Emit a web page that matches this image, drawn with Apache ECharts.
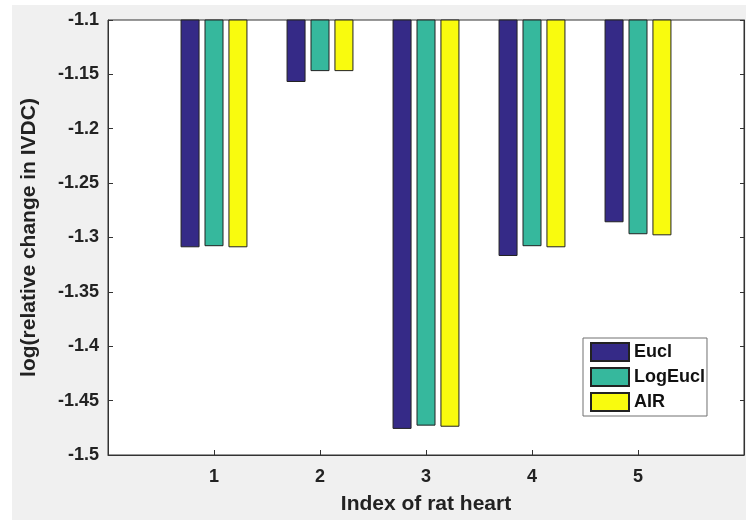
<!DOCTYPE html>
<html>
<head>
<meta charset="utf-8">
<script src="https://cdn.jsdelivr.net/npm/echarts@6/dist/echarts.min.js"></script>
<style>
html, body { margin: 0; padding: 0; background: #fff; }
#chart { width: 746px; height: 520px; }
</style>
</head>
<body>
<div id="chart"></div>
<script>
// 横轴：大鼠心脏编号
var heartIndex = ['1', '2', '3', '4', '5'];
var seriesNames = ['Eucl', 'LogEucl', 'AIR'];
var euclValues = [-1.309, -1.157, -1.476, -1.317, -1.286];
var logEuclValues = [-1.308, -1.147, -1.473, -1.308, -1.297];
var airValues = [-1.309, -1.147, -1.474, -1.309, -1.298];
var yTicks = [-1.5, -1.45, -1.4, -1.35, -1.3, -1.25, -1.2, -1.15, -1.1];
var barColors = ['#352a87', '#36b89d', '#f9fb0e'];

// 坐标轴范围 0..6，两端空位
var xCats = [''].concat(heartIndex, ['']);
function pad(arr) { return [null].concat(arr, [null]); }
var allValues = [euclValues, logEuclValues, airValues];

var fontBold = { fontFamily: 'Liberation Sans, Arial, sans-serif', fontWeight: 'bold' };
var lineColor = '#333';

function innerTick(idx) { return idx >= 1 && idx <= heartIndex.length; }

var seriesList = [];
for (var s = 0; s < seriesNames.length; s++) {
    seriesList.push({
        name: seriesNames[s],
        type: 'bar',
        data: pad(allValues[s]),
        barWidth: 19,
        barGap: '26%',
        clip: true,
        itemStyle: { color: barColors[s], borderColor: '#222', borderWidth: 1 }
    });
}

var myChart = echarts.init(document.getElementById('chart'), null, { renderer: 'canvas' });
var option = {
    backgroundColor: '#fff',
    animation: false,
    graphic: {
        elements: [
            { type: 'rect', z: -100, silent: true, shape: { x: 12, y: 5, width: 760, height: 540 }, style: { fill: '#f0f0f0' } }
        ]
    },
    grid: {
        left: 108, right: 2, top: 20, bottom: 64,
        show: true, backgroundColor: '#fff', borderColor: lineColor, borderWidth: 1
    },
    legend: {
        orient: 'vertical',
        left: 583, top: 338,
        itemWidth: 38, itemHeight: 18, itemGap: 5,
        padding: [4, 2, 4, 7],
        backgroundColor: '#fff',
        borderColor: '#707070', borderWidth: 1, borderRadius: 0,
        icon: 'rect',
        textStyle: Object.assign({ fontSize: 18, lineHeight: 18, color: '#111' }, fontBold),
        data: seriesNames
    },
    xAxis: {
        type: 'category',
        data: xCats,
        boundaryGap: false,
        name: 'Index of rat heart',
        nameLocation: 'middle',
        nameGap: 39,
        nameTextStyle: Object.assign({ fontSize: 21, color: '#222' }, fontBold),
        axisLine: { show: true, lineStyle: { color: lineColor } },
        axisTick: { show: true, inside: true, length: 5, interval: innerTick, lineStyle: { color: lineColor } },
        axisLabel: Object.assign({ interval: innerTick, fontSize: 18, color: '#222', margin: 13 }, fontBold),
        splitLine: { show: false }
    },
    yAxis: [
        {
            type: 'value',
            min: yTicks[0], max: yTicks[yTicks.length - 1], interval: 0.05,
            name: 'log(relative change in IVDC)',
            nameLocation: 'middle',
            nameRotate: 90,
            nameGap: 68,
            nameTextStyle: Object.assign({ fontSize: 21, color: '#222' }, fontBold),
            axisLine: { show: true, lineStyle: { color: lineColor } },
            axisTick: { show: true, inside: true, length: 5, lineStyle: { color: lineColor } },
            axisLabel: Object.assign({
                fontSize: 18, color: '#222', margin: 9,
                formatter: function (v) { return String(Math.round(v * 100) / 100); }
            }, fontBold),
            splitLine: { show: false }
        },
        {
            type: 'value',
            position: 'right',
            min: yTicks[0], max: yTicks[yTicks.length - 1], interval: 0.05,
            axisLine: { show: true, lineStyle: { color: lineColor } },
            axisTick: { show: true, inside: true, length: 4, lineStyle: { color: lineColor } },
            axisLabel: { show: false },
            splitLine: { show: false }
        }
    ],
    series: seriesList
};
myChart.setOption(option);
</script>
</body>
</html>
